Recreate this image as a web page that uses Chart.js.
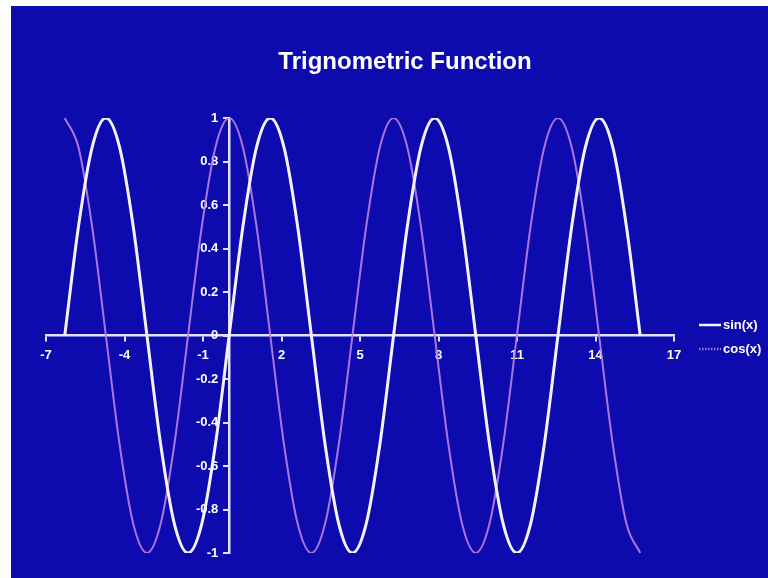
<!DOCTYPE html>
<html>
<head>
<meta charset="utf-8">
<title>Trignometric Function</title>
<script src="https://cdn.jsdelivr.net/npm/chart.js@4.4.1/dist/chart.umd.min.js"></script>
<style>
    html, body { margin: 0; padding: 0; background: #ffffff; }
    #trig-chart { position: absolute; left: 11px; top: 6px; }
</style>
</head>
<body>
<canvas id="trig-chart" width="757" height="572"></canvas>
<script>
// x samples, from -2π to 5π in steps of π/6
const xValues = [
    -6.283, -5.760, -5.236, -4.712, -4.189, -3.665, -3.142, -2.618, -2.094, -1.571, -1.047, -0.524,
    0, 0.524, 1.047, 1.571, 2.094, 2.618, 3.142, 3.665, 4.189, 4.712, 5.236, 5.760,
    6.283, 6.807, 7.330, 7.854, 8.378, 8.901, 9.425, 9.948, 10.472, 10.996, 11.519, 12.043,
    12.566, 13.090, 13.614, 14.137, 14.661, 15.184, 15.708
];

const sinValues = [
    0, 0.5, 0.866, 1, 0.866, 0.5, 0, -0.5, -0.866, -1, -0.866, -0.5,
    0, 0.5, 0.866, 1, 0.866, 0.5, 0, -0.5, -0.866, -1, -0.866, -0.5,
    0, 0.5, 0.866, 1, 0.866, 0.5, 0, -0.5, -0.866, -1, -0.866, -0.5,
    0, 0.5, 0.866, 1, 0.866, 0.5, 0
];

const cosValues = [
    1, 0.866, 0.5, 0, -0.5, -0.866, -1, -0.866, -0.5, 0, 0.5, 0.866,
    1, 0.866, 0.5, 0, -0.5, -0.866, -1, -0.866, -0.5, 0, 0.5, 0.866,
    1, 0.866, 0.5, 0, -0.5, -0.866, -1, -0.866, -0.5, 0, 0.5, 0.866,
    1, 0.866, 0.5, 0, -0.5, -0.866, -1
];

const seriesNames = ['sin(x)', 'cos(x)'];
const chartTitle = 'Trignometric Function';

// Axis ranges / tick spacing
const xMin = -7, xMax = 17, xStep = 3;
const yMin = -1, yMax = 1, yStep = 0.2;

const BG = '#0d0aae';
const AXIS = '#e4e0ff';
const SIN_COLOR = '#f4f2ff';
const COS_COLOR = 'rgba(186, 130, 228, 0.9)';
const FONT = '"Liberation Sans", Arial, sans-serif';

function toPoints(ys) {
    return xValues.map((x, i) => ({ x: x, y: ys[i] }));
}

// Blue slide background
const backgroundPlugin = {
    id: 'slideBackground',
    beforeDraw(chart) {
        const ctx = chart.ctx;
        ctx.save();
        ctx.fillStyle = BG;
        ctx.fillRect(0, 0, chart.width, chart.height);
        ctx.restore();
    }
};

// Title and the little legend on the right
const decorPlugin = {
    id: 'titleAndLegend',
    afterDraw(chart) {
        const ctx = chart.ctx;
        ctx.save();
        ctx.fillStyle = '#ffffff';
        ctx.font = 'bold 24px ' + FONT;
        ctx.textAlign = 'center';
        ctx.textBaseline = 'middle';
        ctx.fillText(chartTitle, 394, 56);

        const items = [
            { text: seriesNames[0], color: SIN_COLOR, dash: [], y: 319 },
            { text: seriesNames[1], color: COS_COLOR, dash: [1.5, 1.5], y: 343 }
        ];
        ctx.font = 'bold 13px ' + FONT;
        ctx.textAlign = 'left';
        items.forEach(item => {
            ctx.strokeStyle = item.color;
            ctx.lineWidth = 2.5;
            ctx.setLineDash(item.dash);
            ctx.beginPath();
            ctx.moveTo(688, item.y);
            ctx.lineTo(710, item.y);
            ctx.stroke();
            ctx.setLineDash([]);
            ctx.fillStyle = '#ffffff';
            ctx.fillText(item.text, 712, item.y);
        });
        ctx.restore();
    }
};

// y labels sit left of the crossing axis; trailing spaces keep them off the line
function yLabel(value) {
    return Number(value.toFixed(1)).toString() + '   ';
}

const ctx = document.getElementById('trig-chart').getContext('2d');
const trigChart = new Chart(ctx, {
    type: 'line',
    data: {
        datasets: [
            {
                label: seriesNames[0],
                data: toPoints(sinValues),
                borderColor: SIN_COLOR,
                borderWidth: 3,
                pointRadius: 0,
                cubicInterpolationMode: 'monotone',
                fill: false
            },
            {
                label: seriesNames[1],
                data: toPoints(cosValues),
                borderColor: COS_COLOR,
                borderWidth: 2,
                pointRadius: 0,
                cubicInterpolationMode: 'monotone',
                fill: false
            }
        ]
    },
    options: {
        responsive: false,
        animation: false,
        devicePixelRatio: 1,
        layout: {
            padding: { left: 35, right: 94, top: 112, bottom: 25 }
        },
        plugins: {
            legend: { display: false },
            title: { display: false },
            tooltip: { enabled: false }
        },
        scales: {
            x: {
                type: 'linear',
                position: { y: 0 },
                min: xMin,
                max: xMax,
                ticks: {
                    stepSize: xStep,
                    color: '#ffffff',
                    font: { family: FONT, size: 13, weight: 'bold' },
                    padding: 7,
                    maxRotation: 0
                },
                grid: {
                    drawOnChartArea: false,
                    drawTicks: true,
                    tickLength: 5,
                    color: AXIS,
                    lineWidth: 2
                },
                border: { color: AXIS, width: 2.5 }
            },
            y: {
                type: 'linear',
                position: { x: 0 },
                min: yMin,
                max: yMax,
                ticks: {
                    stepSize: yStep,
                    color: '#ffffff',
                    font: { family: FONT, size: 13, weight: 'bold' },
                    callback: yLabel
                },
                grid: {
                    drawOnChartArea: false,
                    drawTicks: true,
                    tickLength: 5,
                    color: AXIS,
                    lineWidth: 2
                },
                border: { color: AXIS, width: 2.5 }
            }
        }
    },
    plugins: [backgroundPlugin, decorPlugin]
});
</script>
</body>
</html>
